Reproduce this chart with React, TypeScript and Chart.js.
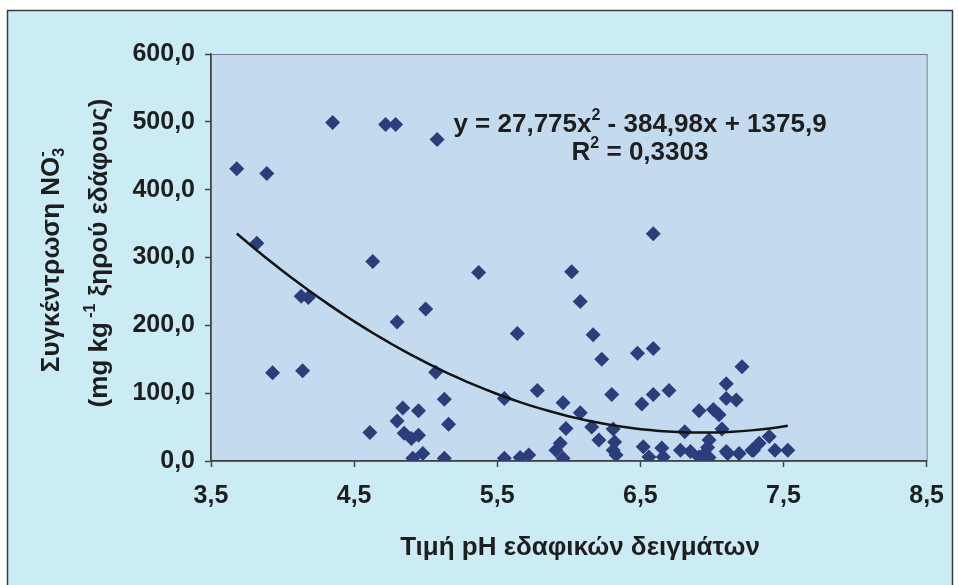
import React, { useEffect, useRef } from 'react';
import { Chart, registerables } from 'chart.js';

Chart.register(...registerables);

// ---- Data ----
const phValues = [
  3.68, 3.89, 3.82, 3.93, 4.14, 4.13, 4.18, 4.35, 4.72, 4.79,
  5.08, 4.63, 4.80, 5.00, 5.37, 5.64, 6.02, 6.08, 5.07, 5.13,
  4.61, 4.84, 4.95, 4.80, 5.16, 4.85, 4.90, 4.95, 4.91, 4.98,
  5.13, 5.55, 5.78, 5.96, 5.98, 5.55, 5.66, 5.72, 5.94, 5.91,
  5.96, 6.59, 6.17, 6.23, 6.48, 6.59, 7.21, 6.30, 6.51, 6.59,
  6.70, 7.10, 7.10, 7.17, 6.91, 7.01, 7.05, 6.08, 6.16, 6.31,
  6.81, 7.07, 6.21, 6.32, 6.52, 6.56, 6.65, 6.66, 6.33, 6.31,
  6.98, 6.97, 6.78, 6.85, 6.94, 6.98, 7.10, 7.19, 7.28, 7.40,
  7.33, 7.29, 7.11, 7.44, 7.53, 6.91,
];
const no3Values = [
  431, 424, 321, 130, 133, 243, 241, 499, 496, 496,
  474, 294, 205, 224, 278, 188, 279, 235, 131, 91,
  42, 78, 74, 59, 54, 41, 33, 38, 4, 11,
  4, 92, 104, 86, 48, 4, 5, 9, 26, 16,
  4, 335, 186, 150, 159, 166, 139, 98, 84, 98,
  104, 114, 92, 90, 74, 76, 68, 71, 50, 47,
  43, 47, 31, 28, 21, 6, 19, 6, 9, 16,
  31, 20, 16, 14, 9, 5, 14, 11, 16, 36,
  26, 16, 11, 16, 16, 6,
];

// Fitted polynomial trendline printed on the chart: y = a x^2 + b x + c
const trendCoeffs = [27.775, -384.98, 1375.9];
const trendRange = [3.68, 7.53];

const xAxisTitle = 'Τιμή pH εδαφικών δειγμάτων';
const yTitleLine1 = 'Συγκέντρωση NO';
const yTitleLine2a = '(mg kg';
const yTitleLine2b = ' ξηρού εδάφους)';
const eqLine1a = 'y = 27,775x';
const eqLine1b = ' - 384,98x + 1375,9';
const eqLine2a = 'R';
const eqLine2b = ' = 0,3303';

const FONT = '"Liberation Sans", Arial, sans-serif';
const fmt = (v: number) => Number(v).toFixed(1).replace('.', ',');

type Seg = { t: string; k?: 'sup' | 'sub' | 'supsub'; t2?: string };

function drawRich(ctx: CanvasRenderingContext2D, segs: Seg[], cx: number, cy: number, size: number, angle: number, color: string) {
  const base = `bold ${size}px ${FONT}`;
  const small = `bold ${Math.round(size * 0.62)}px ${FONT}`;
  const widths = segs.map((s) => {
    if (!s.k) { ctx.font = base; return ctx.measureText(s.t).width; }
    ctx.font = small;
    if (s.k === 'supsub') return Math.max(ctx.measureText(s.t).width, ctx.measureText(s.t2 || '').width);
    return ctx.measureText(s.t).width;
  });
  const total = widths.reduce((a, b) => a + b, 0);
  ctx.save();
  ctx.translate(cx, cy);
  ctx.rotate(angle);
  ctx.fillStyle = color;
  ctx.textAlign = 'left';
  ctx.textBaseline = 'middle';
  let x = -total / 2;
  segs.forEach((s, i) => {
    if (!s.k) {
      ctx.font = base;
      ctx.fillText(s.t, x, 0);
    } else {
      ctx.font = small;
      if (s.k === 'sup') ctx.fillText(s.t, x, -size * 0.38);
      if (s.k === 'sub') ctx.fillText(s.t, x, size * 0.28);
      if (s.k === 'supsub') {
        ctx.fillText(s.t, x, -size * 0.38);
        ctx.fillText(s.t2 || '', x, size * 0.28);
      }
    }
    x += widths[i];
  });
  ctx.restore();
}

const decorPlugin = {
  id: 'decor',
  beforeDraw(chart: any) {
    const ctx = chart.ctx as CanvasRenderingContext2D;
    const { left, top, right, bottom } = chart.chartArea;
    ctx.save();
    ctx.fillStyle = '#ffffff';
    ctx.fillRect(0, 0, chart.width, chart.height);
    ctx.fillStyle = '#cbecf4';
    ctx.fillRect(7, 10, 946, 590);
    ctx.strokeStyle = '#3c3c3c';
    ctx.lineWidth = 1.5;
    ctx.strokeRect(7.5, 10.5, 945, 590);
    ctx.fillStyle = '#c4daef';
    ctx.fillRect(left, top, right - left, bottom - top);
    ctx.strokeStyle = '#7a7a7a';
    ctx.lineWidth = 1;
    ctx.strokeRect(left + 0.5, top + 0.5, right - left, bottom - top);
    ctx.restore();
  },
  afterDraw(chart: any) {
    const ctx = chart.ctx as CanvasRenderingContext2D;
    const col = '#1e1e1e';
    drawRich(ctx, [{ t: xAxisTitle }], 580, 548, 26, 0, col);
    drawRich(ctx, [{ t: yTitleLine1 }, { t: '-', k: 'supsub', t2: '3' }], 52, 260, 26, -Math.PI / 2, col);
    drawRich(ctx, [{ t: yTitleLine2a }, { t: ' -1', k: 'sup' }, { t: yTitleLine2b }], 100, 253, 26, -Math.PI / 2, col);
    drawRich(ctx, [{ t: eqLine1a }, { t: '2', k: 'sup' }, { t: eqLine1b }], 640, 125, 26, 0, col);
    drawRich(ctx, [{ t: eqLine2a }, { t: '2', k: 'sup' }, { t: eqLine2b }], 640, 153, 26, 0, col);
  },
};

export default function App() {
  const ref = useRef<HTMLCanvasElement | null>(null);
  useEffect(() => {
    if (!ref.current) return;
    const points = phValues.map((x, i) => ({ x, y: no3Values[i] }));
    const trend: { x: number; y: number }[] = [];
    const steps = 60;
    for (let i = 0; i <= steps; i++) {
      const x = trendRange[0] + ((trendRange[1] - trendRange[0]) * i) / steps;
      trend.push({ x, y: trendCoeffs[0] * x * x + trendCoeffs[1] * x + trendCoeffs[2] });
    }
    const tickFont = { family: FONT, size: 25, weight: 'bold' as const };
    const chart = new Chart(ref.current, {
      type: 'scatter',
      data: {
        datasets: [
          {
            type: 'line',
            label: 'trend',
            data: trend,
            borderColor: '#141414',
            borderWidth: 2.5,
            pointRadius: 0,
            fill: false,
            tension: 0,
            order: 0,
          } as any,
          {
            label: 'NO3',
            data: points,
            pointStyle: 'rectRot',
            pointRadius: 7.5,
            backgroundColor: '#2b3d7b',
            borderColor: '#2b3d7b',
            borderWidth: 0,
            order: 1,
          },
        ],
      },
      options: {
        responsive: false,
        animation: false,
        events: [],
        layout: { padding: { left: 0, top: 54, right: 30, bottom: 0 } },
        plugins: { legend: { display: false }, tooltip: { enabled: false } },
        scales: {
          x: {
            type: 'linear',
            min: 3.5,
            max: 8.5,
            ticks: { stepSize: 1, callback: (v: any) => fmt(v), font: tickFont, color: '#1e1e1e', padding: 14, maxRotation: 0, autoSkip: false },
            grid: { drawOnChartArea: false, drawTicks: true, tickLength: 6, color: '#444', tickWidth: 1.5 },
            border: { display: true, color: '#444', width: 1.5 },
            afterFit: (s: any) => { s.height = 124; },
          },
          y: {
            min: 0,
            max: 600,
            ticks: { stepSize: 100, callback: (v: any) => fmt(v), font: tickFont, color: '#1e1e1e', padding: 10 },
            grid: { drawOnChartArea: false, drawTicks: true, tickLength: 6, color: '#444', tickWidth: 1.5 },
            border: { display: true, color: '#444', width: 1.5 },
            afterFit: (s: any) => { s.width = 211; },
          },
        },
      },
      plugins: [decorPlugin],
    });
    return () => chart.destroy();
  }, []);
  return (
    <div style={{ position: 'fixed', left: 0, top: 0, width: 958, height: 585, background: '#fff' }}>
      <canvas ref={ref} width={958} height={585} style={{ display: 'block' }} />
    </div>
  );
}
